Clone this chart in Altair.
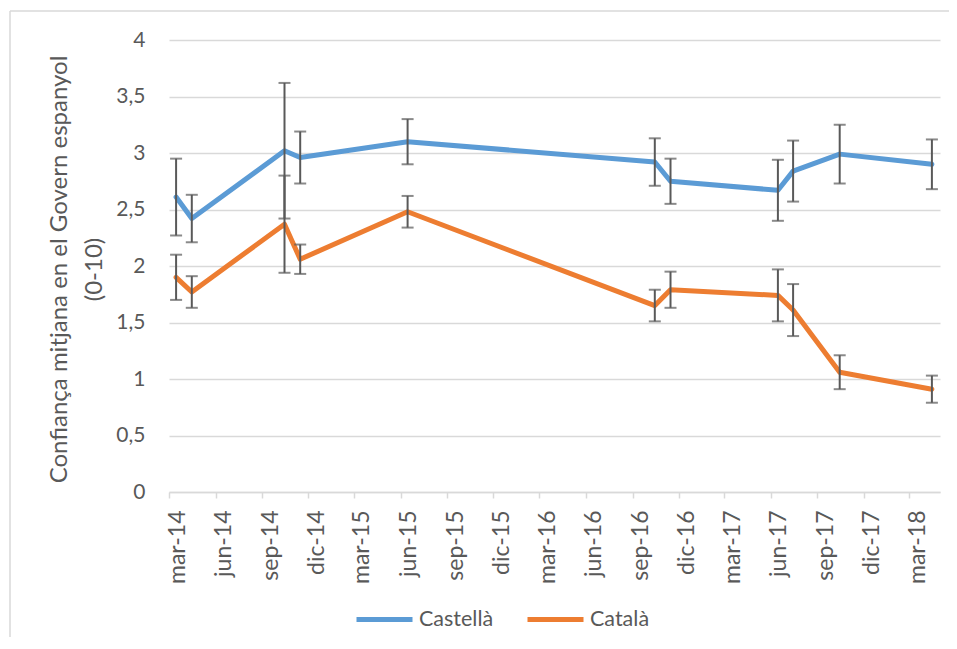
import altair as alt
import pandas as pd

# ---- data ----
dates = ["2014-03-15", "2014-04-15", "2014-10-15", "2014-11-15", "2015-06-15",
         "2016-10-15", "2016-11-15", "2017-06-15", "2017-07-15", "2017-10-15", "2018-04-15"]
castella = [2.61, 2.42, 3.02, 2.96, 3.10, 2.92, 2.75, 2.67, 2.84, 2.99, 2.90]
castella_err = [0.34, 0.21, 0.60, 0.23, 0.20, 0.21, 0.20, 0.27, 0.27, 0.26, 0.22]
catala = [1.90, 1.77, 2.37, 2.06, 2.48, 1.65, 1.79, 1.74, 1.61, 1.06, 0.91]
catala_err = [0.20, 0.14, 0.43, 0.13, 0.14, 0.14, 0.16, 0.23, 0.23, 0.15, 0.12]
series = ["Castellà", "Català"]
colors = ["#5B9BD5", "#ED7D31"]

tick_keys = ["2014-03", "2014-06", "2014-09", "2014-12", "2015-03", "2015-06", "2015-09",
             "2015-12", "2016-03", "2016-06", "2016-09", "2016-12", "2017-03", "2017-06",
             "2017-09", "2017-12", "2018-03"]
tick_labels = ["mar-14", "jun-14", "sep-14", "dic-14", "mar-15", "jun-15", "sep-15",
               "dic-15", "mar-16", "jun-16", "sep-16", "dic-16", "mar-17", "jun-17",
               "sep-17", "dic-17", "mar-18"]
y_ticks = [0, 0.5, 1, 1.5, 2, 2.5, 3, 3.5, 4]

rows = []
for name, vals, errs in [(series[0], castella, castella_err), (series[1], catala, catala_err)]:
    for d, v, e in zip(dates, vals, errs):
        rows.append({"date": d, "serie": name, "value": v, "lo": v - e, "hi": v + e})
df = pd.DataFrame(rows)

FONT = "Lato"
GREY = "#595959"

label_map = "{" + ",".join(f"'{k}':'{l}'" for k, l in zip(tick_keys, tick_labels)) + "}"
tick_values = [alt.DateTime(year=int(k[:4]), month=int(k[5:]), date=1, utc=True) for k in tick_keys]

x_enc = alt.X(
    "date:T",
    scale=alt.Scale(type="utc",
                    domain=[alt.DateTime(year=2014, month=3, date=1, utc=True),
                            alt.DateTime(year=2018, month=5, date=1, utc=True)]),
    axis=alt.Axis(
        values=tick_values,
        labelExpr=label_map + "[utcFormat(datum.value, '%Y-%m')]",
        labelAngle=270, labelAlign="right", labelBaseline="middle",
        labelOffset=8, labelPadding=12,
        grid=False, ticks=True, tickSize=6, tickColor="#D9D9D9", tickWidth=1.5,
        domainColor="#D9D9D9", domainWidth=1.5,
        labelFont=FONT, labelFontSize=23, labelColor=GREY, title=None,
    ),
)

y_enc = alt.Y(
    "value:Q",
    scale=alt.Scale(domain=[0, 4], nice=False),
    axis=alt.Axis(
        values=y_ticks,
        labelExpr="replace(format(datum.value, '.1~f'), '.', ',')",
        ticks=False, domain=False, grid=True, gridColor="#D9D9D9", gridWidth=1.5,
        labelFont=FONT, labelFontSize=21, labelColor=GREY, labelPadding=24,
        title=["Confiança mitjana en el Govern espanyol", "(0-10)"],
        titleFont=FONT, titleFontSize=24, titleFontWeight="normal", titleColor=GREY,
        titleAngle=270, titleAlign="center", titleBaseline="alphabetic",
        titleX=-103, titleY=229, titleLineHeight=35,
    ),
)

color_enc = alt.Color(
    "serie:N",
    scale=alt.Scale(domain=series, range=colors),
    legend=alt.Legend(
        title=None, orient="none", legendX=185, legendY=549, direction="horizontal",
        symbolType="stroke", symbolSize=3136, symbolStrokeWidth=5,
        labelFont=FONT, labelFontSize=21.5, labelColor=GREY, labelOffset=4,
        columnPadding=23, padding=0,
    ),
)

base = alt.Chart(df)

lines = base.mark_line(strokeWidth=5, strokeCap="round", strokeJoin="round").encode(
    x=x_enc, y=y_enc, color=color_enc
)

err_rule = base.mark_rule(color=GREY, strokeWidth=2).encode(
    x="date:T", y="lo:Q", y2="hi:Q"
)
cap_lo = base.mark_tick(orient="horizontal", size=12, thickness=2, color=GREY).encode(
    x="date:T", y="lo:Q"
)
cap_hi = base.mark_tick(orient="horizontal", size=12, thickness=2, color=GREY).encode(
    x="date:T", y="hi:Q"
)

frame = alt.Chart(alt.Data(values=[{"k": 1}])).mark_rule(color="#D9D9D9", strokeWidth=1.5)
border_left = frame.encode(x=alt.value(-159), y=alt.value(-29), y2=alt.value(700))
border_top = frame.encode(x=alt.value(-159), x2=alt.value(900), y=alt.value(-29))

chart = alt.layer(lines, err_rule, cap_lo, cap_hi, border_left, border_top).properties(
    width=771, height=452,
    autosize=alt.AutoSizeParams(type="none"),
    padding={"left": 161, "top": 32, "right": 9, "bottom": 145},
).configure(background="white", view=alt.ViewConfig(stroke=None))

chart.save("out.html", embed_options={"renderer": "svg", "actions": False})
